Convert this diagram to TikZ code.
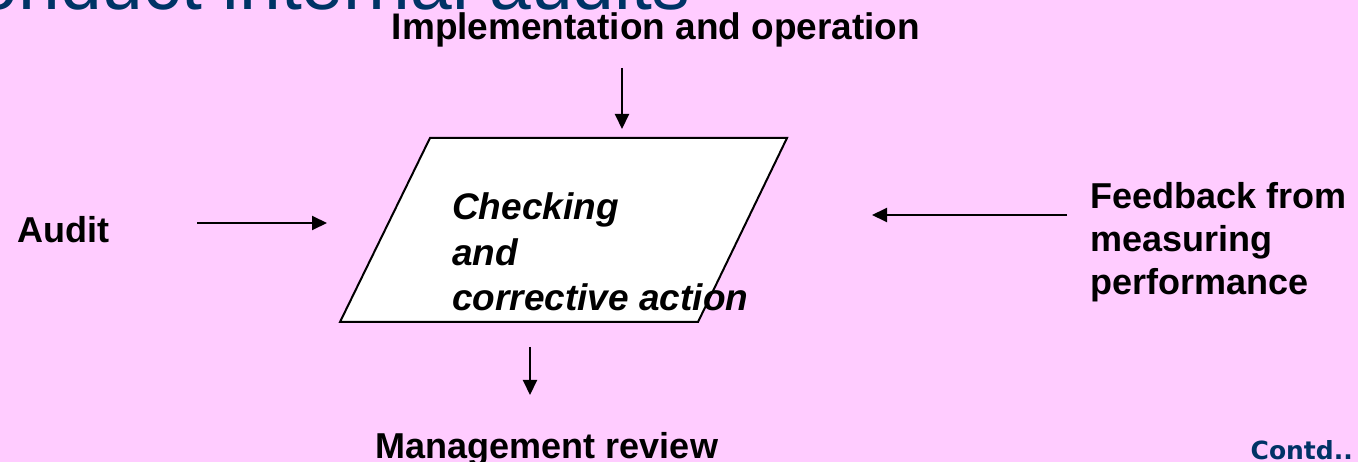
\documentclass[tikz,border=0pt]{standalone}
\usepackage{fontspec}
\setmainfont{Liberation Sans}
\newfontfamily\contdfont{DejaVu Sans}
\usetikzlibrary{arrows.meta}
\definecolor{bgpink}{HTML}{FFCCFF}
\definecolor{navy}{HTML}{003366}
\tikzset{
	lbl/.style={font=\fontsize{36}{43}\selectfont\bfseries,inner sep=0pt,align=left},
	flow/.style={line width=2pt,-{Triangle[length=15pt,width=14pt]}},
	parbox/.style={draw,line width=2pt,fill=white}
}

\begin{document}
\begin{tikzpicture}[x=1pt,y=-1pt]
		\fill[bgpink] (0,0) rectangle (1358,462);
		\useasboundingbox (0,0) rectangle (1358,462);
		
		\node[font=\fontsize{75}{80}\selectfont,text=navy,inner sep=0pt,anchor=base east] (title) at (690,10) {Conduct internal audits};
		
		\draw[parbox] (430,138) -- (787,138) -- (698,322) -- (340,322) -- cycle;
		\node[lbl,font=\fontsize{37}{45.5}\selectfont\bfseries\itshape,anchor=base west] (chk) at (452,311) {Checking\\and\\corrective action};
		
		\node[lbl,font=\fontsize{37}{43}\selectfont\bfseries,anchor=base] (impl) at (656,40) {Implementation and operation};
		\node[lbl,anchor=base west] (audit) at (17,243) {Audit};
		\node[lbl,anchor=base west] (feed) at (1090,295) {Feedback from\\measuring\\performance};
		\node[lbl,anchor=base] (mgmt) at (547,458) {Management review};
		\node[font=\contdfont\fontsize{25}{30}\selectfont\bfseries,text=navy,inner sep=0pt,anchor=base east] (contd) at (1353,459) {Contd..};
		
		\foreach \n/\xa/\ya/\xb/\yb in {top/622/68/622/129, lft/197/223/327/223, rgt/1067/215/872/215, bot/530/347/530/395}{
			\coordinate (\n1) at (\xa,\ya);
			\coordinate (\n2) at (\xb,\yb);
		}
		
		\draw[flow] (top1) -- (top2);
		\draw[flow] (lft1) -- (lft2);
		\draw[flow] (rgt1) -- (rgt2);
		\draw[flow] (bot1) -- (bot2);
\end{tikzpicture}
\end{document}
